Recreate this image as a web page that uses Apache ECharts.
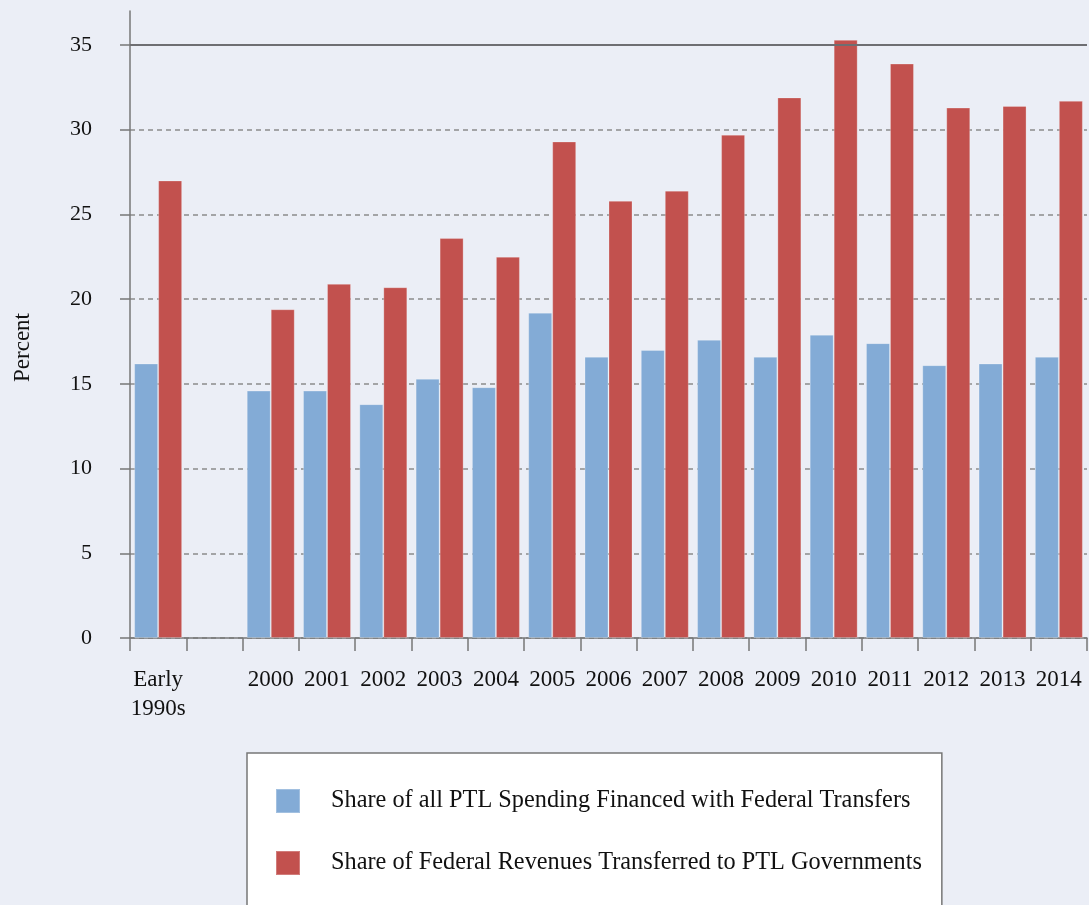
<!DOCTYPE html>
<html>
<head>
<meta charset="utf-8">
<script src="https://cdn.jsdelivr.net/npm/echarts@6/dist/echarts.min.js"></script>
<style>
  html, body { margin: 0; padding: 0; background: #ebeef6; }
  #chart { width: 1089px; height: 905px; }
</style>
</head>
<body>
<div id="chart"></div>
<script>
// categories (the blank one is the gap between the early 1990s and 2000)
var categories = ['Early\n1990s', '', '2000', '2001', '2002', '2003', '2004', '2005', '2006',
  '2007', '2008', '2009', '2010', '2011', '2012', '2013', '2014'];

// Share of all PTL spending financed with federal transfers (%)
var spendingShare = [16.2, null, 14.6, 14.6, 13.8, 15.3, 14.8, 19.2, 16.6,
  17.0, 17.6, 16.6, 17.9, 17.4, 16.1, 16.2, 16.6];

// Share of federal revenues transferred to PTL governments (%)
var revenueShare = [27.0, null, 19.4, 20.9, 20.7, 23.6, 22.5, 29.3, 25.8,
  26.4, 29.7, 31.9, 35.3, 33.9, 31.3, 31.4, 31.7];

var yTicks = [0, 5, 10, 15, 20, 25, 30, 35];

var seriesNames = [
  'Share of all PTL Spending Financed with Federal Transfers',
  'Share of Federal Revenues Transferred to PTL Governments'
];

var serif = '"Liberation Serif", "DejaVu Serif", serif';

var chart = echarts.init(document.getElementById('chart'));

var option = {
  backgroundColor: '#ebeef6',
  animation: false,
  textStyle: { fontFamily: serif, color: '#111' },
  grid: {
    left: 130,
    right: 2,
    top: 11,
    bottom: 267,
    outerBoundsMode: 'none'
  },
  legend: {
    orient: 'vertical',
    left: 247,
    top: 753,
    height: 220,
    padding: [35, 20, 60, 28],
    backgroundColor: '#ffffff',
    borderColor: '#777',
    borderWidth: 1.5,
    borderRadius: 0,
    icon: 'rect',
    itemWidth: 24,
    itemHeight: 24,
    itemGap: 36,
    selectedMode: false,
    textStyle: {
      fontFamily: serif,
      fontSize: 24.3,
      color: '#111',
      padding: [0, 0, 0, 26]
    },
    data: seriesNames
  },
  xAxis: {
    type: 'category',
    data: categories,
    boundaryGap: true,
    axisLine: { show: true, lineStyle: { color: '#777', width: 1.5 } },
    axisTick: { show: true, interval: 0, length: 13, lineStyle: { color: '#777', width: 1.5 } },
    axisLabel: {
      interval: 0,
      margin: 27,
      fontFamily: serif,
      fontSize: 23,
      lineHeight: 29,
      color: '#111'
    }
  },
  yAxis: {
    type: 'value',
    min: 0,
    max: 37,
    name: 'Percent',
    nameLocation: 'middle',
    nameGap: 96,
    nameTextStyle: {
      fontFamily: serif,
      fontSize: 23,
      color: '#111',
      padding: [0, 46, 0, 0]
    },
    axisLine: { show: true, lineStyle: { color: '#777', width: 1.5 } },
    axisTick: {
      show: true,
      length: 10,
      customValues: yTicks,
      lineStyle: { color: '#777', width: 1.5 }
    },
    axisLabel: {
      customValues: yTicks,
      margin: 38,
      fontFamily: serif,
      fontSize: 22,
      color: '#111'
    },
    splitLine: {
      show: true,
      lineStyle: { color: '#8c8c8c', width: 1.5, type: [5, 4] }
    }
  },
  series: [
    {
      name: seriesNames[0],
      type: 'bar',
      data: spendingShare,
      barWidth: 24,
      barGap: '0%',
      itemStyle: {
        color: '#83abd6',
        borderColor: 'rgba(255,255,255,0.25)',
        borderWidth: 1
      },
      markLine: {
        silent: true,
        symbol: 'none',
        label: { show: false },
        lineStyle: { color: '#6e6e72', width: 2, type: 'solid' },
        data: [{ yAxis: 35 }]
      }
    },
    {
      name: seriesNames[1],
      type: 'bar',
      data: revenueShare,
      barWidth: 24,
      barGap: '0%',
      z: 3,
      itemStyle: {
        color: '#c2514e',
        borderColor: 'rgba(255,255,255,0.25)',
        borderWidth: 1
      }
    }
  ]
};

chart.setOption(option);
window.addEventListener('resize', chart.resize);
</script>
</body>
</html>
